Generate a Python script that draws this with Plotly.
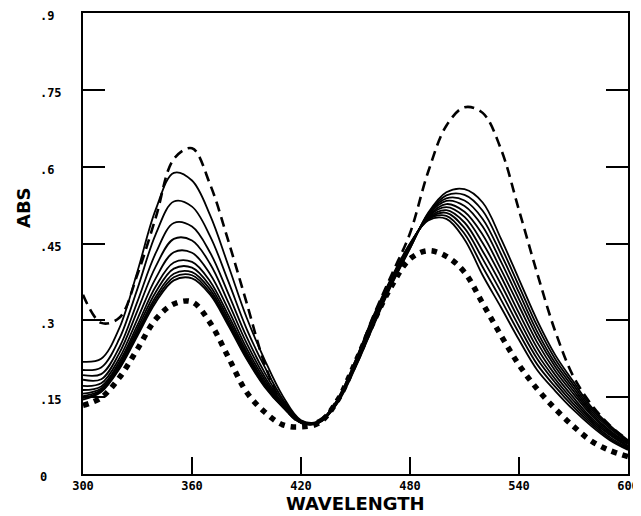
import plotly.graph_objects as go

wavelength = [300, 310, 320, 330, 340, 350, 360, 370, 380, 390, 400, 410, 420,
              430, 440, 450, 460, 470, 480, 490, 500, 510, 520, 530, 540, 550,
              560, 570, 580, 590, 600]

scan_1 = [0.219, 0.225, 0.285, 0.396, 0.516, 0.588, 0.573, 0.505, 0.407, 0.306, 0.223, 0.152, 0.105,
          0.103, 0.145, 0.222, 0.310, 0.385, 0.450, 0.495, 0.498, 0.458, 0.388, 0.326, 0.262, 0.203,
          0.162, 0.125, 0.093, 0.066, 0.047]
scan_2 = [0.203, 0.208, 0.264, 0.362, 0.468, 0.532, 0.522, 0.464, 0.376, 0.284, 0.209, 0.146, 0.104,
          0.103, 0.144, 0.220, 0.308, 0.383, 0.449, 0.497, 0.504, 0.469, 0.404, 0.341, 0.275, 0.214,
          0.170, 0.131, 0.097, 0.069, 0.049]
scan_3 = [0.193, 0.195, 0.247, 0.337, 0.431, 0.490, 0.483, 0.432, 0.352, 0.268, 0.198, 0.142, 0.103,
          0.102, 0.143, 0.219, 0.306, 0.382, 0.448, 0.498, 0.510, 0.480, 0.420, 0.356, 0.288, 0.225,
          0.178, 0.137, 0.101, 0.072, 0.051]
scan_4 = [0.184, 0.185, 0.236, 0.319, 0.405, 0.459, 0.456, 0.410, 0.335, 0.256, 0.190, 0.138, 0.102,
          0.102, 0.143, 0.217, 0.303, 0.380, 0.447, 0.500, 0.515, 0.491, 0.435, 0.371, 0.301, 0.235,
          0.185, 0.143, 0.105, 0.076, 0.053]
scan_5 = [0.172, 0.177, 0.226, 0.303, 0.382, 0.433, 0.432, 0.390, 0.321, 0.246, 0.184, 0.136, 0.101,
          0.102, 0.142, 0.216, 0.301, 0.378, 0.446, 0.502, 0.521, 0.502, 0.451, 0.386, 0.314, 0.246,
          0.193, 0.149, 0.109, 0.079, 0.055]
scan_6 = [0.164, 0.171, 0.219, 0.291, 0.366, 0.413, 0.414, 0.376, 0.310, 0.239, 0.179, 0.134, 0.101,
          0.101, 0.141, 0.214, 0.299, 0.377, 0.444, 0.503, 0.527, 0.512, 0.467, 0.400, 0.328, 0.257,
          0.201, 0.156, 0.114, 0.082, 0.058]
scan_7 = [0.157, 0.167, 0.214, 0.284, 0.355, 0.401, 0.403, 0.367, 0.303, 0.234, 0.176, 0.132, 0.100,
          0.101, 0.140, 0.213, 0.297, 0.375, 0.443, 0.505, 0.533, 0.523, 0.483, 0.415, 0.341, 0.268,
          0.209, 0.162, 0.118, 0.085, 0.060]
scan_8 = [0.152, 0.164, 0.210, 0.278, 0.346, 0.391, 0.394, 0.360, 0.297, 0.230, 0.173, 0.131, 0.100,
          0.101, 0.140, 0.211, 0.294, 0.373, 0.442, 0.507, 0.538, 0.534, 0.498, 0.430, 0.354, 0.278,
          0.216, 0.168, 0.122, 0.089, 0.062]
scan_9 = [0.148, 0.162, 0.207, 0.274, 0.340, 0.384, 0.388, 0.354, 0.293, 0.227, 0.172, 0.131, 0.100,
          0.100, 0.139, 0.210, 0.292, 0.372, 0.441, 0.508, 0.544, 0.545, 0.514, 0.445, 0.367, 0.289,
          0.224, 0.174, 0.126, 0.092, 0.064]
scan_10 = [0.145, 0.160, 0.205, 0.270, 0.335, 0.378, 0.382, 0.350, 0.290, 0.225, 0.170, 0.130, 0.100,
           0.100, 0.138, 0.208, 0.290, 0.370, 0.440, 0.510, 0.550, 0.556, 0.530, 0.460, 0.380, 0.300,
           0.232, 0.180, 0.130, 0.095, 0.066]

dashed_ref = [0.350, 0.295, 0.305, 0.390, 0.500, 0.615, 0.636, 0.565, 0.455, 0.335, 0.215, 0.135, 0.100,
              0.105, 0.145, 0.220, 0.310, 0.390, 0.470, 0.590, 0.680, 0.716, 0.705, 0.635, 0.515, 0.392,
              0.278, 0.190, 0.135, 0.095, 0.066]
dotted_ref = [0.134, 0.149, 0.188, 0.244, 0.302, 0.332, 0.336, 0.295, 0.228, 0.160, 0.121, 0.096, 0.092,
              0.100, 0.143, 0.218, 0.298, 0.368, 0.420, 0.436, 0.425, 0.394, 0.333, 0.271, 0.213, 0.166,
              0.127, 0.093, 0.064, 0.046, 0.034]

x_tick_vals = [300, 360, 420, 480, 540, 600]
x_tick_text = ["300", "360", "420", "480", "540", "600"]
y_tick_vals = [0, 0.15, 0.3, 0.45, 0.6, 0.75, 0.9]
y_tick_text = ["0\u00a0\u00a0", ".15", ".3\u00a0", ".45", ".6\u00a0", ".75", ".9\u00a0"]

x_title = "WAVELENGTH"
y_title = "ABS"

solid_scans = [scan_1, scan_2, scan_3, scan_4, scan_5, scan_6, scan_7, scan_8, scan_9, scan_10]

fig = go.Figure()
for s in solid_scans:
    fig.add_trace(go.Scatter(x=wavelength, y=s, mode="lines",
                             line=dict(color="black", width=1.8, shape="spline"),
                             showlegend=False, hoverinfo="skip"))
fig.add_trace(go.Scatter(x=wavelength, y=dashed_ref, mode="lines",
                         line=dict(color="black", width=2.6, dash="10px,6px", shape="spline"),
                         showlegend=False, hoverinfo="skip"))
fig.add_trace(go.Scatter(x=wavelength, y=dotted_ref, mode="lines",
                         line=dict(color="black", width=5.5, dash="5.5px,6px", shape="spline"),
                         showlegend=False, hoverinfo="skip"))

tick_font = dict(family="DejaVu Sans Mono", size=12, color="black", weight="bold")
title_font = dict(family="DejaVu Sans", size=18, color="black", weight="bold")

# The page body adds an 8px offset, so the figure is 633x508 and sits at (8, 8).
fig.update_layout(
    width=633, height=508,
    margin=dict(l=75, r=13, t=5, b=42, autoexpand=False),
    paper_bgcolor="white", plot_bgcolor="white",
    xaxis=dict(range=[300, 600], tickvals=x_tick_vals, ticktext=x_tick_text,
               ticks="inside", ticklen=17, tickwidth=2, tickcolor="black",
               showline=True, linewidth=2, linecolor="black", mirror=True,
               showgrid=False, zeroline=False, tickfont=tick_font,
               ticklabelstandoff=0, automargin=False, ticklabeloverflow="allow"),
    yaxis=dict(range=[0, 0.9], tickvals=y_tick_vals, ticktext=y_tick_text,
               ticks="inside", ticklen=22, tickwidth=2, tickcolor="black",
               showline=True, linewidth=2, linecolor="black", mirror="ticks",
               showgrid=False, zeroline=False, tickfont=tick_font,
               ticklabelstandoff=17, ticklabelshift=3,
               automargin=False, ticklabeloverflow="allow"),
    annotations=[
        dict(text=y_title, textangle=-90, xref="paper", yref="paper",
             x=-0.110, y=0.577, xanchor="center", yanchor="middle",
             showarrow=False, font=title_font),
        dict(text=x_title, xref="paper", yref="paper",
             x=0.5, y=-0.064, xanchor="center", yanchor="middle",
             showarrow=False, font=title_font),
    ],
)

fig.write_html("out.html")
